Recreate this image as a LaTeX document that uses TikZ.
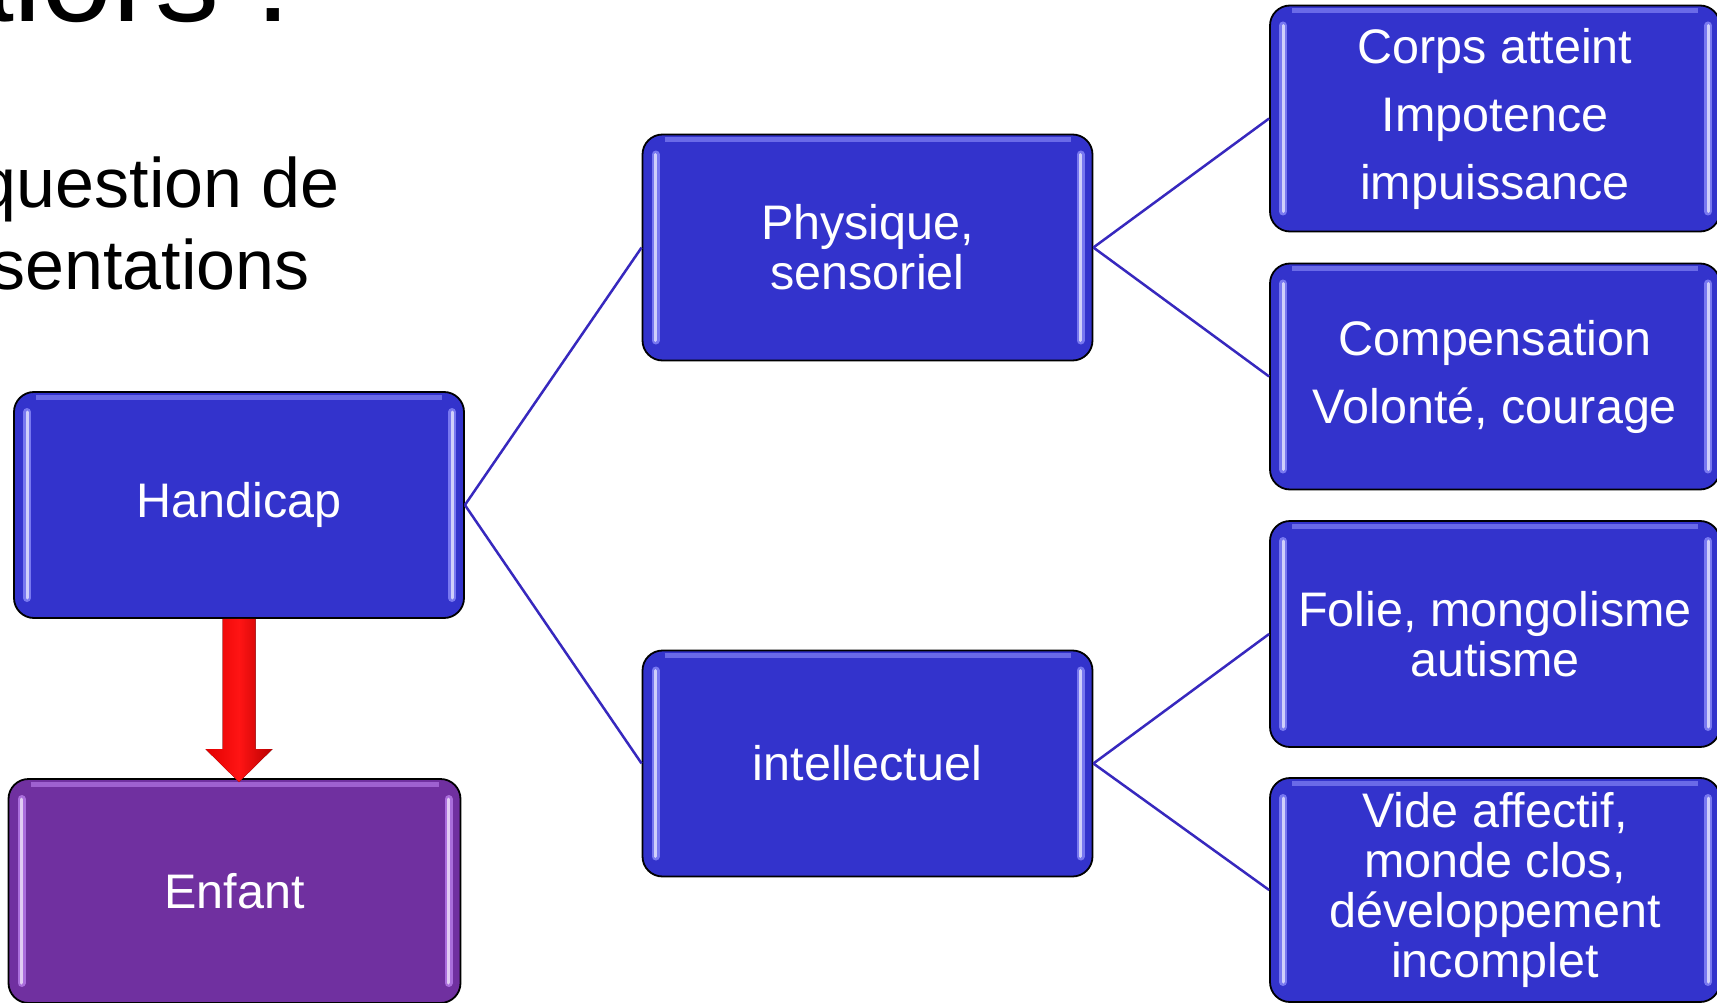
\documentclass[tikz,border=0pt]{standalone}
\usepackage{fontspec}
\setmainfont{Liberation Sans}
\usetikzlibrary{calc}
\definecolor{boxblue}{RGB}{51,51,204}
\definecolor{boxpurple}{RGB}{112,48,160}
\definecolor{hlblue}{RGB}{120,120,240}
\definecolor{hlpurple}{RGB}{170,110,220}
\definecolor{linkblue}{RGB}{55,40,190}
\definecolor{arrredL}{RGB}{225,0,0}
\definecolor{arrredM}{RGB}{255,20,20}
\definecolor{arrredR}{RGB}{185,0,0}
\tikzset{
  gloss/.style={path picture={
    \foreach \lw/\col in {8pt/#1, 3pt/#1!35!white}{
      \draw[\col, line width=\lw, line cap=round]
        ([xshift=13pt,yshift=-20pt]path picture bounding box.north west) --
        ([xshift=13pt,yshift=20pt]path picture bounding box.south west);
      \draw[\col, line width=\lw, line cap=round]
        ([xshift=-12pt,yshift=-20pt]path picture bounding box.north east) --
        ([xshift=-12pt,yshift=20pt]path picture bounding box.south east);
    }
    \draw[#1, opacity=0.8, line width=5pt]
      ([xshift=22pt,yshift=-5pt]path picture bounding box.north west) --
      ([xshift=-22pt,yshift=-5pt]path picture bounding box.north east);
  }},
  card/.style={draw=black, line width=1.8pt, rounded corners=20pt, fill=boxblue,
    text=white, minimum width=450pt, minimum height=226pt, inner sep=0pt,
    align=center, font=\fontsize{48.5}{50}\selectfont, gloss=hlblue},
  widecard/.style={card, font=\fontsize{48.5}{68}\selectfont},
  purplecard/.style={card, fill=boxpurple, gloss=hlpurple},
  link/.style={draw=linkblue, line width=2.5pt},
  bigtext/.style={inner sep=0pt, anchor=base east, font=\fontsize{128}{130}\selectfont},
  bodytext/.style={inner sep=0pt, anchor=base east, font=\fontsize{70}{80}\selectfont},
}
\begin{document}
\begin{tikzpicture}[x=1pt, y=-1pt]
  \useasboundingbox (0,0) rectangle (1717,1003);
  \clip (0,0) rectangle (1717,1003);
  \fill[white] (0,0) rectangle (1717,1003);

  % slide text (partly cut off)
  \node[bigtext] (title) at (291,22) {alors :};
  \node[bodytext] (line1) at (340,208) {question de};
  \node[bodytext] (line2) at (310,290) {sentations};

  % boxes
  \node[card] (h) at (239,505) {Handicap};
  \node[purplecard, minimum width=452pt, minimum height=224pt] (e) at (234.5,891) {Enfant};
  \node[card] (p) at (867.5,247.5) {Physique,\\sensoriel};
  \node[card] (i) at (867.5,763.5) {intellectuel};
  \node[widecard] (c1) at (1495,118.5) {Corps atteint\\Impotence\\impuissance};
  \node[widecard] (c2) at (1495,376.5) {Compensation\\Volonté, courage};
  \node[card] (c3) at (1495,634) {Folie, mongolisme\\autisme};
  \node[card, minimum height=224pt] (c4) at (1495,890) {Vide affectif,\\monde clos,\\développement\\incomplet};

  % connectors
  \draw[link] (h.east) -- (p.west);
  \draw[link] (h.east) -- (i.west);
  \draw[link] (p.east) -- (c1.west);
  \draw[link] (p.east) -- (c2.west);
  \draw[link] (i.east) -- (c3.west);
  \draw[link] (i.east) -- (c4.west);

  % red block arrow from Handicap to Enfant
  \coordinate (as) at (h.south);
  \coordinate (at) at ($(h.south |- e.north)+(0,4)$);
  \fill[left color=arrredL, right color=arrredR, middle color=arrredM]
    ($(as)+(-16.5,0)$) -- ($(at)+(-16.5,-33)$) -- ($(at)+(-33.5,-33)$) -- (at)
    -- ($(at)+(33.5,-33)$) -- ($(at)+(16.5,-33)$) -- ($(as)+(16.5,0)$) -- cycle;
\end{tikzpicture}
\end{document}
